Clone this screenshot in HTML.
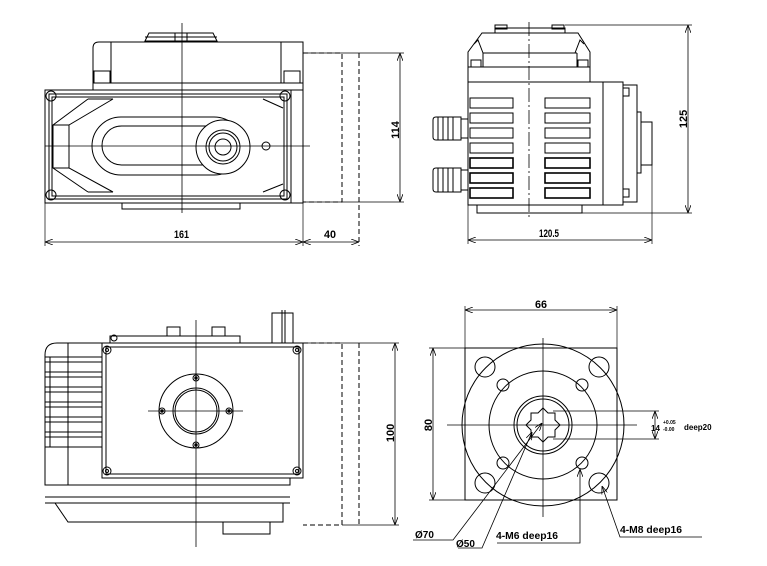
<!DOCTYPE html>
<html><head><meta charset="utf-8"><style>
html,body{margin:0;padding:0;background:#fff}
svg{display:block}
text{font-family:"Liberation Sans",sans-serif;font-weight:bold;font-size:11px;fill:#000}
</style></head><body>
<svg width="767" height="566" viewBox="0 0 767 566" xmlns="http://www.w3.org/2000/svg">
<defs>
<marker id="a" markerWidth="8" markerHeight="6" refX="8" refY="3" orient="auto-start-reverse" markerUnits="userSpaceOnUse"><path d="M0,0 L8,3 L0,6" fill="none" stroke="#000" stroke-width="0.8"/></marker>
</defs>
<g fill="none" stroke="#000" stroke-width="1">
<!-- ===== TOP LEFT VIEW ===== -->
<path d="M93,90 V48 Q93,42 99,42 H303 V90"/>
<line x1="111" y1="42" x2="111" y2="83"/><line x1="281" y1="42" x2="281" y2="83"/>
<line x1="93" y1="83" x2="303" y2="83"/>
<rect x="94" y="71" width="16" height="12"/><rect x="284" y="71" width="16" height="12"/>
<path d="M145,41 L149,33 H213 L217,41 Z"/><line x1="145" y1="37" x2="217" y2="37"/>
<rect x="175" y="33" width="12" height="8"/>
<rect x="45" y="90" width="258" height="113"/>
<line x1="291" y1="90" x2="291" y2="203"/>
<rect x="49" y="94" width="238" height="105"/>
<path d="M52,97 H284 V196 H52 Z"/>
<path d="M88,99 L53,125 V168 L88,192 M113,99 L69,125 V168 L113,192 M53,125 H69 M53,168 H69 M88,99 H113 M88,192 H113"/>
<path d="M263,99 L283,108 M263,192 L283,184"/>
<rect x="92" y="117" width="151" height="58" rx="29"/>
<rect x="102" y="126" width="125" height="39" rx="19.5"/>
<circle cx="223" cy="147" r="27" fill="#fff"/>
<circle cx="223" cy="147" r="17"/><circle cx="223" cy="147" r="14"/><circle cx="223" cy="147" r="8"/>
<circle cx="266" cy="146" r="4"/>
<circle cx="51" cy="96" r="5"/><circle cx="285" cy="96" r="5"/><circle cx="51" cy="195" r="5"/><circle cx="285" cy="195" r="5"/>
<rect x="122" y="203" width="118" height="6"/>
<line x1="182" y1="23" x2="182" y2="213" stroke-width="0.8"/>
<line x1="45" y1="146" x2="310" y2="146" stroke-width="0.8"/>
<path d="M303,53 H342 V202 H303" stroke-dasharray="5,3"/>
<line x1="359" y1="53" x2="359" y2="246" stroke-dasharray="5,3"/>
<line x1="303" y1="53" x2="404" y2="53" stroke-width="0.7"/><line x1="303" y1="202" x2="404" y2="202" stroke-width="0.7"/>
<line x1="400" y1="53" x2="400" y2="202" marker-start="url(#a)" marker-end="url(#a)" stroke-width="0.8"/>
<line x1="45" y1="203" x2="45" y2="246" stroke-width="0.7"/><line x1="303" y1="203" x2="303" y2="246" stroke-width="0.7"/>
<line x1="45" y1="242" x2="303" y2="242" marker-start="url(#a)" marker-end="url(#a)" stroke-width="0.8"/>
<line x1="303" y1="242" x2="359" y2="242" marker-start="url(#a)" marker-end="url(#a)" stroke-width="0.8"/>

<!-- ===== TOP RIGHT VIEW ===== -->
<rect x="495" y="28" width="70" height="5"/><rect x="495" y="25" width="12" height="4"/><rect x="552" y="25" width="12" height="4"/>
<path d="M468,82 V52 L482,33 H578 L590,52 V82"/>
<path d="M474,44 L478,40 L483,53 M584,44 L580,40 L575,53"/>
<line x1="483" y1="53" x2="577" y2="53"/><line x1="483" y1="53" x2="483" y2="67"/><line x1="577" y1="53" x2="577" y2="67"/>
<rect x="471" y="60" width="10" height="7"/><rect x="578" y="60" width="10" height="7"/>
<line x1="468" y1="67" x2="590" y2="67"/>
<rect x="468" y="82" width="135" height="123"/>
<rect x="603" y="82" width="20" height="123"/>
<rect x="623" y="85" width="14" height="117"/>
<rect x="637" y="112" width="4" height="61"/>
<rect x="641" y="122" width="11" height="43"/>
<rect x="623" y="88" width="6" height="8"/><rect x="623" y="189" width="6" height="8"/>
<g>
<rect x="470" y="98" width="43" height="10"/><rect x="545" y="98" width="45" height="10"/>
<rect x="470" y="113" width="43" height="10"/><rect x="545" y="113" width="45" height="10"/>
<rect x="470" y="128" width="43" height="10"/><rect x="545" y="128" width="45" height="10"/>
<rect x="470" y="143" width="43" height="10"/><rect x="545" y="143" width="45" height="10"/>
<rect x="470" y="158" width="43" height="10" stroke-width="1.6"/><rect x="545" y="158" width="45" height="10" stroke-width="1.6"/>
<rect x="470" y="173" width="43" height="10" stroke-width="1.6"/><rect x="545" y="173" width="45" height="10" stroke-width="1.6"/>
<rect x="470" y="188" width="43" height="10" stroke-width="1.6"/><rect x="545" y="188" width="45" height="10" stroke-width="1.6"/>
</g>
<rect x="477" y="205" width="105" height="8"/>
<path d="M433,120 Q433,117 436,117 H461 V140 H436 Q433,140 433,137 Z"/><rect x="461" y="119" width="7" height="19"/>
<path d="M438,117 V140 M443,117 V140 M448,117 V140 M453,117 V140"/>
<path d="M433,171 Q433,168 436,168 H461 V192 H436 Q433,192 433,189 Z"/><rect x="461" y="170" width="7" height="20"/>
<path d="M438,168 V192 M443,168 V192 M448,168 V192 M453,168 V192"/>
<line x1="529" y1="22" x2="529" y2="220" stroke-dasharray="14,3,2,3" stroke-width="0.8"/>
<line x1="565" y1="25" x2="692" y2="25" stroke-width="0.7"/><line x1="582" y1="213" x2="692" y2="213" stroke-width="0.7"/>
<line x1="688" y1="25" x2="688" y2="213" marker-start="url(#a)" marker-end="url(#a)" stroke-width="0.8"/>
<line x1="468" y1="205" x2="468" y2="244" stroke-width="0.7"/><line x1="652" y1="165" x2="652" y2="244" stroke-width="0.7"/>
<line x1="468" y1="240" x2="652" y2="240" marker-start="url(#a)" marker-end="url(#a)" stroke-width="0.8"/>

<!-- ===== BOTTOM LEFT VIEW ===== -->
<path d="M102,343 H57 Q45,343 45,355 V485 H290 V478"/>
<line x1="68" y1="343" x2="68" y2="485"/>
<g>
<line x1="45" y1="357" x2="102" y2="357"/><line x1="45" y1="372" x2="102" y2="372"/>
<line x1="45" y1="387" x2="102" y2="387"/><line x1="45" y1="402" x2="102" y2="402"/>
<line x1="45" y1="417" x2="102" y2="417"/><line x1="45" y1="432" x2="102" y2="432"/>
<line x1="45" y1="447" x2="102" y2="447"/>
<line x1="45" y1="362" x2="102" y2="362"/><line x1="45" y1="377" x2="102" y2="377"/>
<line x1="45" y1="392" x2="102" y2="392"/><line x1="45" y1="407" x2="102" y2="407"/>
<line x1="45" y1="422" x2="102" y2="422"/><line x1="45" y1="437" x2="102" y2="437"/>
<line x1="50" y1="357" x2="50" y2="447"/>
</g>
<rect x="102" y="343" width="201" height="135"/>
<path d="M106,347 H299 V474 H106 Z"/>
<circle cx="107" cy="350" r="4"/><circle cx="297" cy="350" r="4"/><circle cx="107" cy="471" r="4"/><circle cx="297" cy="471" r="4"/>
<circle cx="107" cy="350" r="1.5"/><circle cx="297" cy="350" r="1.5"/><circle cx="107" cy="471" r="1.5"/><circle cx="297" cy="471" r="1.5"/>
<line x1="45" y1="497" x2="290" y2="497"/><line x1="45" y1="503" x2="290" y2="503"/>
<path d="M55,503 L68,522 H283 V503"/>
<rect x="223" y="522" width="47" height="12"/>
<rect x="110" y="336" width="130" height="7"/><circle cx="114" cy="338" r="3"/>
<rect x="167" y="327" width="13" height="9"/><rect x="212" y="327" width="13" height="9"/>
<rect x="272" y="313" width="21" height="30"/><line x1="282" y1="310" x2="282" y2="343"/><line x1="285" y1="310" x2="285" y2="343"/>
<circle cx="196" cy="411" r="37"/>
<circle cx="196" cy="411" r="23"/><circle cx="196" cy="411" r="21"/>
<circle cx="196" cy="378" r="3"/><circle cx="229" cy="411" r="3"/><circle cx="162" cy="411" r="3"/><circle cx="196" cy="445" r="3"/>
<circle cx="196" cy="378" r="1.2" fill="#000"/><circle cx="229" cy="411" r="1.2" fill="#000"/><circle cx="162" cy="411" r="1.2" fill="#000"/><circle cx="196" cy="445" r="1.2" fill="#000"/>
<line x1="196" y1="320" x2="196" y2="547" stroke-width="0.8"/>
<line x1="148" y1="411" x2="243" y2="411" stroke-width="0.8"/>
<path d="M303,343 H342 V525 H303" stroke-dasharray="5,3"/>
<line x1="359" y1="343" x2="359" y2="525" stroke-dasharray="5,3"/>
<line x1="303" y1="343" x2="399" y2="343" stroke-width="0.7"/><line x1="342" y1="525" x2="399" y2="525" stroke-width="0.7"/>
<line x1="395" y1="343" x2="395" y2="525" marker-start="url(#a)" marker-end="url(#a)" stroke-width="0.8"/>

<!-- ===== BOTTOM RIGHT VIEW ===== -->
<rect x="465" y="348" width="152" height="152"/>
<circle cx="543" cy="425" r="81"/>
<circle cx="543" cy="425" r="54"/>
<circle cx="485" cy="367" r="10"/><circle cx="599" cy="367" r="10"/><circle cx="485" cy="483" r="10"/><circle cx="599" cy="483" r="10"/>
<circle cx="503" cy="385" r="6"/><circle cx="582" cy="385" r="6"/><circle cx="503" cy="463" r="6"/><circle cx="582" cy="463" r="6"/>
<circle cx="543" cy="425" r="29"/><circle cx="543" cy="425" r="26"/>
<path d="M543,408 L548,413 L555,413 L555,420 L560,425 L555,430 L555,437 L548,437 L543,442 L538,437 L531,437 L531,430 L526,425 L531,420 L531,413 L538,413 Z"/>
<line x1="543" y1="338" x2="543" y2="517" stroke-width="0.8"/>
<line x1="447" y1="425" x2="637" y2="425" stroke-width="0.8"/>
<line x1="465" y1="306" x2="465" y2="348" stroke-width="0.7"/><line x1="617" y1="306" x2="617" y2="348" stroke-width="0.7"/>
<line x1="465" y1="310" x2="617" y2="310" marker-start="url(#a)" marker-end="url(#a)" stroke-width="0.8"/>
<line x1="429" y1="348" x2="617" y2="348" stroke-width="0.7"/><line x1="429" y1="500" x2="465" y2="500" stroke-width="0.7"/>
<line x1="433" y1="348" x2="433" y2="500" marker-start="url(#a)" marker-end="url(#a)" stroke-width="0.8"/>
<line x1="553" y1="411" x2="659" y2="411" stroke-width="0.7"/><line x1="553" y1="439" x2="659" y2="439" stroke-width="0.7"/>
<line x1="655" y1="411" x2="655" y2="439" marker-start="url(#a)" marker-end="url(#a)" stroke-width="0.8"/>
<path d="M542,423 L453,540 H413" stroke-width="0.8" marker-start="url(#a)"/>
<path d="M532,432 L482,548 H458" stroke-width="0.8" marker-start="url(#a)"/>
<path d="M580,469 V543 H497" stroke-width="0.8" marker-start="url(#a)"/>
<path d="M602,486 L620,537 H702" stroke-width="0.8" marker-start="url(#a)"/>
</g>
<!-- text -->
<text x="174" y="238" textLength="15" lengthAdjust="spacingAndGlyphs">161</text>
<text x="324" y="238" textLength="12" lengthAdjust="spacingAndGlyphs">40</text>
<text transform="translate(399,130) rotate(-90)" text-anchor="middle">114</text>
<text x="539" y="237" textLength="20" lengthAdjust="spacingAndGlyphs">120.5</text>
<text transform="translate(687,119) rotate(-90)" text-anchor="middle">125</text>
<text transform="translate(394,433) rotate(-90)" text-anchor="middle">100</text>
<text x="535" y="308" textLength="12" lengthAdjust="spacingAndGlyphs">66</text>
<text transform="translate(432,425) rotate(-90)" text-anchor="middle">80</text>
<text x="651" y="431" style="font-size:8px">14</text>
<text x="663" y="424" style="font-size:5px">+0.05</text>
<text x="663" y="431" style="font-size:5px">-0.00</text>
<text x="684" y="430" style="font-size:8px">deep20</text>
<text x="415" y="538" style="font-size:10px">Ø70</text>
<text x="456" y="547" style="font-size:10px">Ø50</text>
<text x="496" y="539" style="font-size:10px" textLength="62" lengthAdjust="spacingAndGlyphs">4-M6 deep16</text>
<text x="620" y="533" style="font-size:10px" textLength="62" lengthAdjust="spacingAndGlyphs">4-M8 deep16</text>
</svg>
</body></html>
